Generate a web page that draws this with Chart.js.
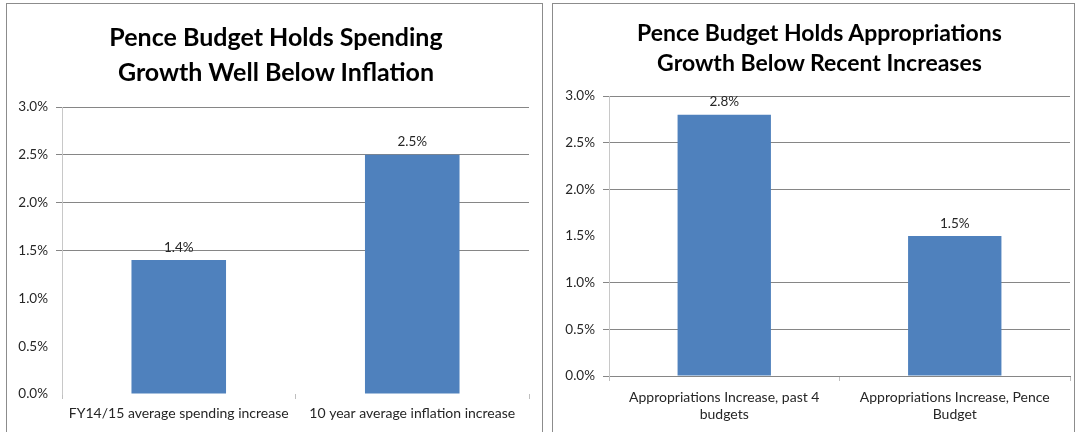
<!DOCTYPE html>
<html>
<head>
<meta charset="utf-8">
<script src="https://cdn.jsdelivr.net/npm/chart.js@4.4.1/dist/chart.umd.min.js"></script>
<style>
  body { margin: 0; background: #fff; width: 1078px; height: 432px; overflow: hidden; position: relative; }
  .panel { position: absolute; border: 1px solid #8c8c8c; border-bottom: none; background: #fff; }
  #left { left: 6px; top: 3px; width: 535px; height: 429px; }
  #right { left: 552px; top: 3px; width: 521px; height: 429px; }
  .title { position: absolute; left: 0; font-family: Lato, "Liberation Sans", sans-serif; font-weight: bold; color: #000; text-align: center; white-space: nowrap; }
  #left .title { top: 15px; width: 538px; font-size: 25px; line-height: 35px; }
  #right .title { top: 13px; width: 533px; font-size: 23px; line-height: 30px; }
  canvas { display: block; }
</style>
</head>
<body>
<div class="panel" id="left">
  <canvas id="spendChart" width="535" height="428"></canvas>
  <div class="title" id="spendTitle"></div>
</div>
<div class="panel" id="right">
  <canvas id="approChart" width="521" height="428"></canvas>
  <div class="title" id="approTitle"></div>
</div>

<script>
// dados dos dois gráficos
const spendTitle = ['Pence Budget Holds Spending', 'Growth Well Below Inflation'];
const spendLabels = ['FY14/15 average spending increase', '10 year average inflation increase'];
const spendValues = [1.4, 2.5];

const approTitle = ['Pence Budget Holds Appropriations', 'Growth Below Recent Increases'];
const approLabels = [['Appropriations Increase, past 4', 'budgets'], ['Appropriations Increase, Pence', 'Budget']];
const approValues = [2.8, 1.5];

const yTicks = [0, 0.5, 1, 1.5, 2, 2.5, 3];

const barColor = '#4f81bd';
const gridColor = '#868686';
const textColor = '#262626';
const baseFont = 'Lato, "Liberation Sans", sans-serif';

// títulos em duas linhas
function setTitle(id, lines) {
    let el = document.getElementById(id);
    lines.forEach((t, i) => {
        if (i > 0) el.appendChild(document.createElement('br'));
        el.appendChild(document.createTextNode(t));
    });
}
setTitle('spendTitle', spendTitle);
setTitle('approTitle', approTitle);

// escreve o valor em cima de cada barra
const valueLabels = {
    id: 'valueLabels',
    afterDatasetsDraw(chart) {
        let ctx = chart.ctx;
        let meta = chart.getDatasetMeta(0);
        ctx.save();
        ctx.font = '13.5px ' + baseFont;
        ctx.fillStyle = textColor;
        ctx.textAlign = 'center';
        ctx.textBaseline = 'bottom';
        meta.data.forEach((bar, i) => {
            let v = chart.data.datasets[0].data[i];
            ctx.fillText(v.toFixed(1) + '%', bar.x, bar.y - 6);
        });
        ctx.restore();
    }
};

function makeChart(id, cfg) {
    return new Chart(document.getElementById(id), {
        type: 'bar',
        data: {
            labels: cfg.labels,
            datasets: [{
                data: cfg.values,
                backgroundColor: barColor,
                categoryPercentage: 0.405,
                barPercentage: 1
            }]
        },
        plugins: [valueLabels],
        options: {
            responsive: false,
            animation: false,
            layout: { padding: { left: 0, right: cfg.padRight, top: cfg.padTop, bottom: 0 } },
            plugins: {
                legend: { display: false },
                tooltip: { enabled: false },
                title: { display: false }
            },
            scales: {
                x: {
                    grid: {
                        drawOnChartArea: false,
                        tickLength: 5,
                        color: '#bfbfbf'
                    },
                    border: { display: cfg.xBorder, color: gridColor },
                    ticks: {
                        color: textColor,
                        font: { family: baseFont, size: 14 },
                        padding: cfg.xPad,
                        maxRotation: 0
                    },
                    afterFit: (s) => { s.height = cfg.xHeight; }
                },
                y: {
                    min: 0,
                    max: 3,
                    afterBuildTicks: (s) => { s.ticks = yTicks.map(v => ({ value: v })); },
                    grid: {
                        tickLength: 6,
                        color: (c) => cfg.noGrid.includes(c.tick.value) ? 'rgba(0,0,0,0)' : gridColor
                    },
                    border: { display: true, color: '#c8c8c8' },
                    ticks: {
                        color: textColor,
                        font: { family: baseFont, size: 13.5 },
                        padding: 8,
                        callback: (v) => Number(v).toFixed(1) + '%'
                    },
                    afterFit: (s) => { s.width = cfg.yWidth; }
                }
            }
        }
    });
}

makeChart('spendChart', {
    labels: spendLabels, values: spendValues,
    padTop: 103, padRight: 13, yWidth: 55, xHeight: 38, xBorder: false, xPad: 6,
    noGrid: [0, 0.5, 1]
});

makeChart('approChart', {
    labels: approLabels, values: approValues,
    padTop: 92, padRight: 4, yWidth: 56, xHeight: 56, xBorder: true, xPad: 8,
    noGrid: [1.5]
});
</script>
</body>
</html>
